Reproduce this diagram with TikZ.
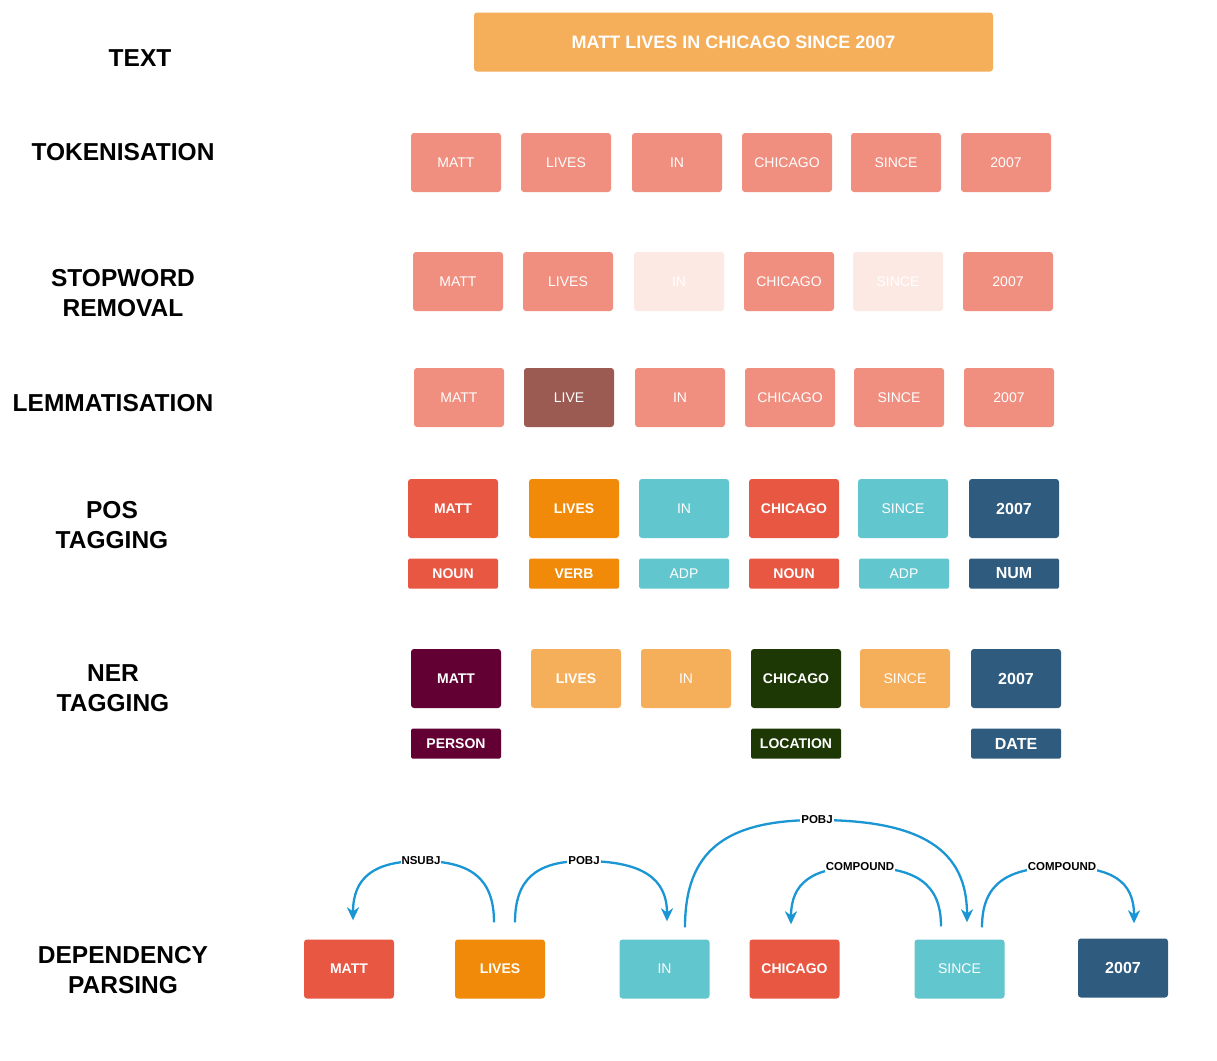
\documentclass[tikz,border=0pt]{standalone}
\usepackage{fontspec}
\setmainfont{Liberation Sans}
\usetikzlibrary{arrows.meta}
\definecolor{topor}{HTML}{F5AF5A}
\definecolor{salmon}{HTML}{F08F80}
\definecolor{faded}{HTML}{FDE9E3}
\definecolor{brownred}{HTML}{9C5B52}
\definecolor{posred}{HTML}{E85742}
\definecolor{posor}{HTML}{F08A08}
\definecolor{cyanb}{HTML}{62C6CE}
\definecolor{navy}{HTML}{2F5C7E}
\definecolor{plum}{HTML}{620033}
\definecolor{forest}{HTML}{1D3804}
\definecolor{arcblue}{HTML}{1A96D4}
\tikzset{
  tok/.style={rectangle, rounded corners=3pt, inner sep=0pt, minimum width=90pt, minimum height=59pt, text=white, font=\fontsize{14}{14}\selectfont},
  tokb/.style={tok, font=\fontsize{14}{14}\selectfont\bfseries},
  tag/.style={rectangle, rounded corners=1.5pt, inner sep=0pt, minimum width=90pt, minimum height=30pt, text=white, font=\fontsize{14}{14}\selectfont},
  tagb/.style={tag, font=\fontsize{14}{14}\selectfont\bfseries},
  rowlbl/.style={align=center, font=\fontsize{24.5}{30}\selectfont\bfseries, text=black},
  arc/.style={draw=arcblue, line width=2.3pt, -{Stealth[length=13pt,width=12pt,inset=4pt]}},
  deplbl/.style={fill=white, inner sep=1pt, font=\fontsize{11.5}{11.5}\selectfont\bfseries, text=black}
}
\begin{document}
\begin{tikzpicture}[x=1pt,y=-1pt]
\useasboundingbox[fill=white] (0,0) rectangle (1217,1060);

% row labels
\node[rowlbl] (lText) at (140,58) {TEXT};
\node[rowlbl] (lTok) at (123,152) {TOKENISATION};
\node[rowlbl] (lStop) at (123,293) {STOPWORD\\REMOVAL};
\node[rowlbl] (lLem) at (113,403) {LEMMATISATION};
\node[rowlbl] (lPos) at (112,525) {POS\\TAGGING};
\node[rowlbl] (lNer) at (113,688) {NER\\TAGGING};
\node[rowlbl] (lDep) at (123,970) {DEPENDENCY\\PARSING};

% text
\node[rectangle, rounded corners=3pt, fill=topor, minimum width=519pt, minimum height=59pt, inner sep=0pt, text=white, font=\fontsize{18}{18}\selectfont\bfseries] (txt) at (733.5,42) {MATT LIVES IN CHICAGO SINCE 2007};

% tokenisation
\node[tok, fill=salmon] (t1) at (456,162.5) {MATT};
\node[tok, fill=salmon] (t2) at (566,162.5) {LIVES};
\node[tok, fill=salmon] (t3) at (677,162.5) {IN};
\node[tok, fill=salmon] (t4) at (787,162.5) {CHICAGO};
\node[tok, fill=salmon] (t5) at (896,162.5) {SINCE};
\node[tok, fill=salmon] (t6) at (1006,162.5) {2007};

% stopword removal
\node[tok, fill=salmon] (s1) at (458,281.5) {MATT};
\node[tok, fill=salmon] (s2) at (568,281.5) {LIVES};
\node[tok, fill=faded] (s3) at (679,281.5) {IN};
\node[tok, fill=salmon] (s4) at (789,281.5) {CHICAGO};
\node[tok, fill=faded] (s5) at (898,281.5) {SINCE};
\node[tok, fill=salmon] (s6) at (1008,281.5) {2007};

% lemmatisation
\node[tok, fill=salmon] (m1) at (459,397.5) {MATT};
\node[tok, fill=brownred] (m2) at (569,397.5) {LIVE};
\node[tok, fill=salmon] (m3) at (680,397.5) {IN};
\node[tok, fill=salmon] (m4) at (790,397.5) {CHICAGO};
\node[tok, fill=salmon] (m5) at (899,397.5) {SINCE};
\node[tok, fill=salmon] (m6) at (1009,397.5) {2007};

% POS tagging
\node[tokb, fill=posred] (p1) at (453,508.5) {MATT};
\node[tokb, fill=posor] (p2) at (574,508.5) {LIVES};
\node[tok, fill=cyanb] (p3) at (684,508.5) {IN};
\node[tokb, fill=posred] (p4) at (794,508.5) {CHICAGO};
\node[tok, fill=cyanb] (p5) at (903,508.5) {SINCE};
\node[tokb, fill=navy, font=\fontsize{16}{16}\selectfont\bfseries] (p6) at (1014,508.5) {2007};
\node[tagb, fill=posred] (pt1) at (453,573.5) {NOUN};
\node[tagb, fill=posor] (pt2) at (574,573.5) {VERB};
\node[tag, fill=cyanb] (pt3) at (684,573.5) {ADP};
\node[tagb, fill=posred] (pt4) at (794,573.5) {NOUN};
\node[tag, fill=cyanb] (pt5) at (904,573.5) {ADP};
\node[tagb, fill=navy, font=\fontsize{16}{16}\selectfont\bfseries] (pt6) at (1014,573.5) {NUM};

% NER tagging
\node[tokb, fill=plum] (n1) at (456,678.5) {MATT};
\node[tokb, fill=topor] (n2) at (576,678.5) {LIVES};
\node[tok, fill=topor] (n3) at (686,678.5) {IN};
\node[tokb, fill=forest] (n4) at (796,678.5) {CHICAGO};
\node[tok, fill=topor] (n5) at (905,678.5) {SINCE};
\node[tokb, fill=navy, font=\fontsize{16}{16}\selectfont\bfseries] (n6) at (1016,678.5) {2007};
\node[tagb, fill=plum] (nt1) at (456,743.5) {PERSON};
\node[tagb, fill=forest] (nt4) at (796,743.5) {LOCATION};
\node[tagb, fill=navy, font=\fontsize{16}{16}\selectfont\bfseries] (nt6) at (1016,743.5) {DATE};

% dependency parsing
\node[tokb, fill=posred] (d1) at (349,969) {MATT};
\node[tokb, fill=posor] (d2) at (500,969) {LIVES};
\node[tok, fill=cyanb] (d3) at (664.5,969) {IN};
\node[tokb, fill=posred] (d4) at (794.5,969) {CHICAGO};
\node[tok, fill=cyanb] (d5) at (959.5,969) {SINCE};
\node[tokb, fill=navy, font=\fontsize{16}{16}\selectfont\bfseries] (d6) at (1123,968) {2007};

\coordinate (q1) at (421,861);
\coordinate (q2) at (584,861);
\coordinate (q3) at (817,820);
\coordinate (q4) at (860,867);
\coordinate (q5) at (1062,867);

\draw[arc] ([xshift=-6pt,yshift=17pt]d2.north) .. controls +(0,-43) and +(51,0) .. (q1) .. controls +(-48,0) and +(0,-42) .. ([xshift=4pt,yshift=19pt]d1.north);
\draw[arc] ([xshift=15pt,yshift=17pt]d2.north) .. controls +(0,-43) and +(-48,0) .. (q2) .. controls +(58,0) and +(0,-43) .. ([xshift=2.5pt,yshift=18pt]d3.north);
\draw[arc] ([xshift=20.5pt,yshift=12pt]d3.north) .. controls +(0,-76) and +(-92,0) .. (q3) .. controls +(105,0) and +(0,-72) .. ([xshift=7.5pt,yshift=17pt]d5.north);
\draw[arc] ([xshift=-18.5pt,yshift=13pt]d5.north) .. controls +(0,-42) and +(57,0) .. (q4) .. controls +(-48,0) and +(0,-41) .. ([xshift=-3.5pt,yshift=15pt]d4.north);
\draw[arc] ([xshift=22.5pt,yshift=12pt]d5.north) .. controls +(0,-43) and +(-56,0) .. (q5) .. controls +(50,0) and +(0,-42) .. ([xshift=11pt,yshift=15pt]d6.north);

\node[deplbl] (a1) at (q1) {NSUBJ};
\node[deplbl] (a2) at (q2) {POBJ};
\node[deplbl] (a3) at (q3) {POBJ};
\node[deplbl] (a4) at (q4) {COMPOUND};
\node[deplbl] (a5) at (q5) {COMPOUND};
\end{tikzpicture}
\end{document}
